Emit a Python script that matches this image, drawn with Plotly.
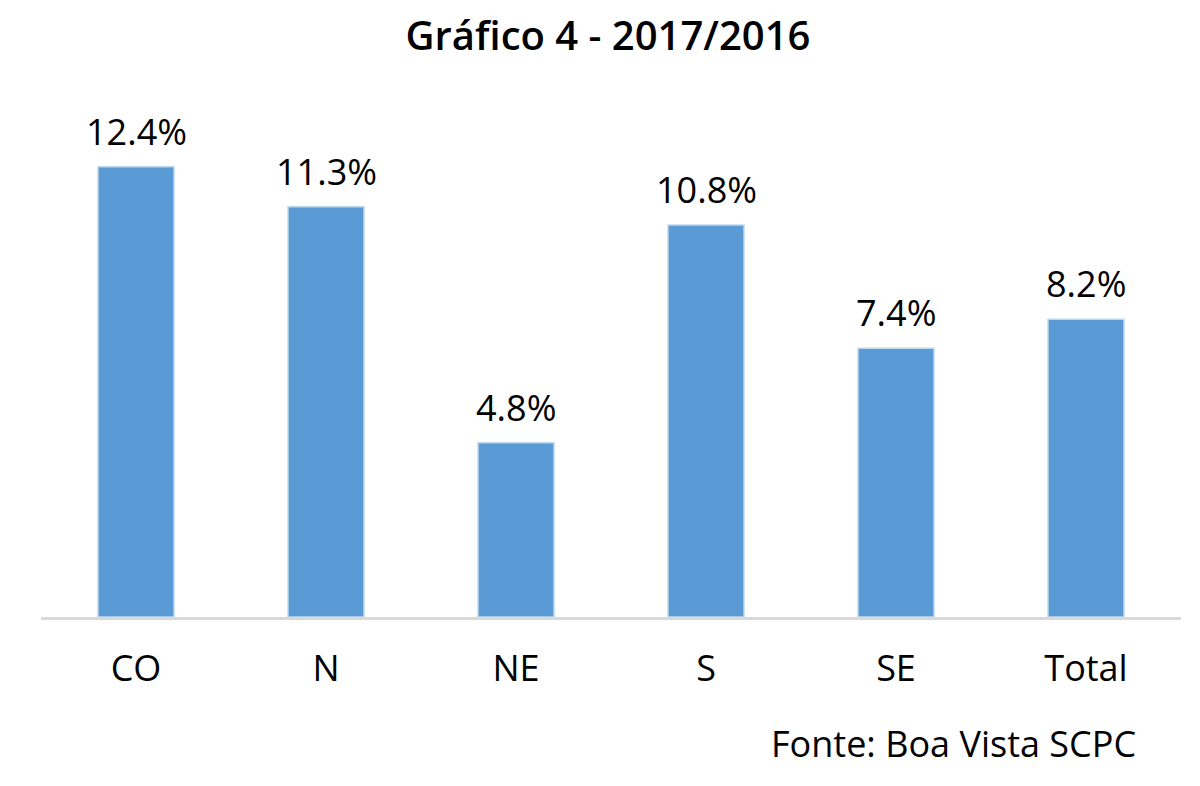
import plotly.graph_objects as go

regioes = ['CO', 'N', 'NE', 'S', 'SE', 'Total']
variacao = [12.4, 11.3, 4.8, 10.8, 7.4, 8.2]
rotulos = ['12.4%', '11.3%', '4.8%', '10.8%', '7.4%', '8.2%']

fonte = "Open Sans"

fig = go.Figure()
fig.add_trace(go.Bar(x=regioes, y=variacao, marker_color='#5b9bd5',
                     marker_line_color='#bdd7ee', marker_line_width=1.5,
                     hoverinfo='skip'))

# rótulos de dados acima das barras
for r, v, t in zip(regioes, variacao, rotulos):
    fig.add_annotation(x=r, y=v, text=t, showarrow=False, yanchor='bottom',
                       yshift=9, font=dict(size=36, color='#000000', family=fonte))

fig.add_annotation(text='Fonte: Boa Vista SCPC', xref='paper', yref='paper',
                   x=0.962, y=-0.245, xanchor='right', yanchor='middle',
                   showarrow=False, font=dict(size=36, color='#000000', family=fonte))

fig.update_layout(
    width=1200, height=786,
    paper_bgcolor='white', plot_bgcolor='white',
    margin=dict(l=33, r=27, t=92, b=177),
    bargap=0.6,
    showlegend=False,
    title=dict(text='Gráfico 4 - 2017/2016', x=0.5, xanchor='center',
               y=0.964, yanchor='middle',
               font=dict(size=40, color='#000000', family=fonte, weight=600)),
)
fig.update_xaxes(showline=True, linecolor='#d9d9d9', linewidth=3,
                 ticks='', ticklabelstandoff=18,
                 tickfont=dict(size=36, color='#000000', family=fonte))
fig.update_yaxes(visible=False, range=[0, 14.24], showgrid=False)

fig.write_html("out.html")
